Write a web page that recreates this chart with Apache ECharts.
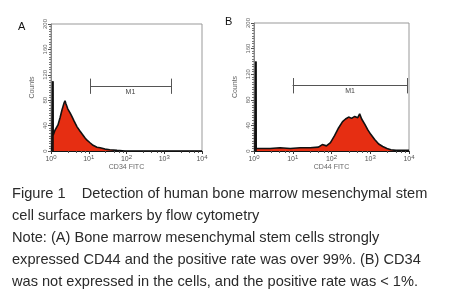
<!DOCTYPE html>
<html>
<head>
<meta charset="utf-8">
<script src="https://cdn.jsdelivr.net/npm/echarts@6/dist/echarts.min.js"></script>
<style>
  html, body { margin: 0; padding: 0; background: #fff; }
  #chart { width: 462px; height: 300px; }
</style>
</head>
<body>
<div id="chart"></div>
<script>
// panel A: fluorescence (CD34 FITC) and counts
const aFluor = [1.05, 1.1, 1.14, 1.2, 1.28, 1.53, 1.73, 1.96, 2.2, 2.35, 2.5, 2.8, 3.2, 3.6, 4.1, 4.9, 5.9, 6.6, 7.9, 9.0, 10.8, 13, 16.5, 20, 27, 36, 56, 91, 10000];
const aCounts = [0, 110, 25, 28, 33, 41, 52, 65, 75, 79, 74, 66, 60, 54, 47, 38, 31, 28, 21, 17, 13, 9, 6, 5, 3, 2, 1, 0, 0];
// panel B: fluorescence (CD44 FITC) and counts
const bFluor = [1.05, 1.1, 1.14, 1.4, 2.6, 4.7, 8.6, 15.6, 28, 46, 58, 74, 94, 120, 152, 193, 230, 277, 330, 397, 476, 533, 600, 720, 866, 1030, 1300, 1650, 2100, 2700, 3400, 4600, 10000];
const bCounts = [0, 140, 4, 4, 4, 5, 4, 5, 5, 6, 10, 8, 13, 24, 36, 46, 50, 53, 51, 54, 52, 58, 50, 42, 33, 26, 18, 11, 7, 4, 2, 1, 1];
// M1 gates
const gateA = [10.8, 1500];
const gateB = [10, 9000];
const gateLevel = 102;
const gateCap = 12;
const yTicks = [0, 40, 80, 120, 160, 200];
const axisNames = ["CD34 FITC", "CD44 FITC"];
const caption = [
  "Figure 1    Detection of human bone marrow mesenchymal stem",
  "cell surface markers by flow cytometry",
  "Note: (A) Bone marrow mesenchymal stem cells strongly",
  "expressed CD44 and the positive rate was over 99%. (B) CD34",
  "was not expressed in the cells, and the positive rate was < 1%."
];

const chart = echarts.init(document.getElementById("chart"));

function xAxisOf(idx) {
  return {
    type: "log",
    logBase: 10,
    gridIndex: idx,
    min: 1,
    max: 10000,
    name: axisNames[idx],
    nameLocation: "middle",
    nameGap: 13,
    nameTextStyle: { fontSize: 7, color: "#666", fontFamily: "Liberation Sans" },
    axisLine: { lineStyle: { color: "#111", width: 1 } },
    axisTick: { show: true, length: 3, lineStyle: { color: "#333" } },
    minorTick: { show: true, length: 2, lineStyle: { color: "#555" } },
    splitLine: { show: false },
    axisLabel: {
      margin: 3,
      color: "#555",
      formatter: v => "{b|10}{s|" + Math.round(Math.log10(v)) + "}",
      rich: {
        b: { fontSize: 7, color: "#555", fontFamily: "Liberation Sans" },
        s: { fontSize: 6, color: "#555", fontFamily: "Liberation Sans", verticalAlign: "top", padding: [0, 0, 5, 0] }
      }
    }
  };
}

function yAxisOf(idx) {
  return {
    type: "value",
    gridIndex: idx,
    min: 0,
    max: 200,
    interval: 40,
    name: "Counts",
    nameLocation: "middle",
    nameGap: 15,
    nameRotate: 90,
    nameTextStyle: { fontSize: 7, color: "#666", fontFamily: "Liberation Sans" },
    axisLine: { show: true, lineStyle: { color: "#888", width: 1 } },
    axisTick: { show: true, length: 3, lineStyle: { color: "#555" } },
    minorTick: { show: true, splitNumber: 10, length: 2, lineStyle: { color: "#777" } },
    splitLine: { show: false },
    axisLabel: {
      rotate: 90,
      margin: 3,
      fontSize: 6,
      color: "#666",
      fontFamily: "Liberation Sans",
      formatter: v => (yTicks.indexOf(v) >= 0 ? String(v) : "")
    }
  };
}

function histSeries(idx, xs, ys, gate) {
  return {
    type: "line",
    xAxisIndex: idx,
    yAxisIndex: idx,
    data: xs.map((x, i) => [x, ys[i]]),
    showSymbol: false,
    smooth: false,
    lineStyle: { color: "#111", width: 1.6 },
    areaStyle: { color: "#e62e12", opacity: 1 },
    silent: true,
    markLine: {
      silent: true,
      symbol: "none",
      lineStyle: { color: "#555", width: 1, type: "solid" },
      label: { show: false },
      data: [
        // first-channel spike
        [
          { coord: [xs[1], 0], lineStyle: { color: "#111", width: 1.6 } },
          { coord: [xs[1], ys[1]] }
        ],
        [{ coord: [gate[0], gateLevel] }, { coord: [gate[1], gateLevel], label: { show: false } }],
        [{ coord: [gate[0], gateLevel - gateCap] }, { coord: [gate[0], gateLevel + gateCap] }],
        [{ coord: [gate[1], gateLevel - gateCap] }, { coord: [gate[1], gateLevel + gateCap] }],
        [
          { coord: [gate[0], gateLevel], label: { show: true, formatter: "M1", position: "insideMiddleBottom", fontSize: 7, color: "#444", fontFamily: "Liberation Sans", distance: 2 } },
          { coord: [gate[1], gateLevel] }
        ]
      ]
    }
  };
}

chart.setOption({
  animation: false,
  backgroundColor: "#fff",
  grid: [
    { left: 51, right: 260, top: 24, bottom: 149, show: true, borderColor: "#999", borderWidth: 1 },
    { left: 254, right: 53, top: 23, bottom: 149, show: true, borderColor: "#999", borderWidth: 1 }
  ],
  xAxis: [xAxisOf(0), xAxisOf(1)],
  yAxis: [yAxisOf(0), yAxisOf(1)],
  series: [
    histSeries(0, aFluor, aCounts, gateA),
    histSeries(1, bFluor, bCounts, gateB)
  ],
  graphic: [
    { type: "text", left: 18, top: 21, style: { text: "A", fontSize: 11, fill: "#111", fontFamily: "Liberation Sans" } },
    { type: "text", left: 225, top: 16, style: { text: "B", fontSize: 11, fill: "#111", fontFamily: "Liberation Sans" } },
    {
      type: "text",
      left: 12,
      top: 183,
      style: {
        text: caption.join("\n"),
        fontSize: 14.6,
        lineHeight: 22,
        fill: "#2a2a2a",
        fontFamily: "Liberation Sans"
      }
    }
  ]
});
</script>
</body>
</html>
